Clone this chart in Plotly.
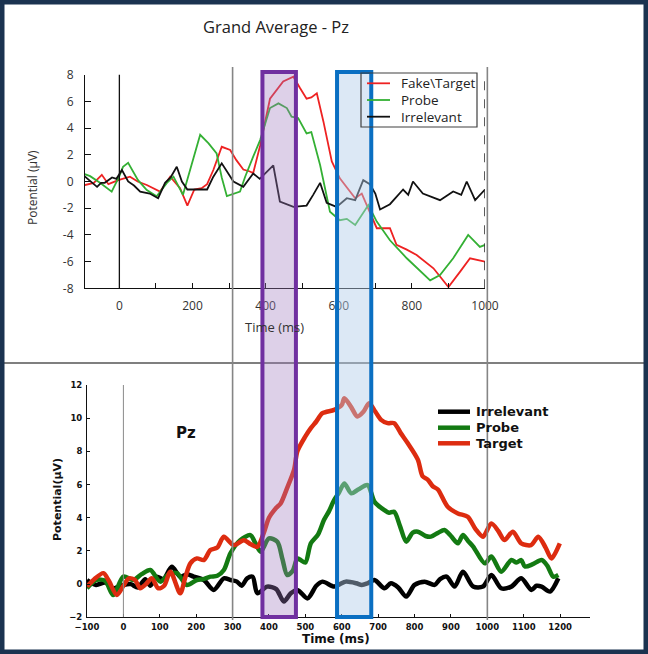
import plotly.graph_objects as go

W, H = 648, 654

# ---------------- TOP PANEL DATA (Grand Average - Pz) ----------------
top_red_t = [-100,-70,-48,-30,-3,29,50,75,111,139,
             166,186,205,225,240,257,280,303,320,339,
             357,366,385,412,448,476,494,512,525,540,
             558,581,603,625,645,663,685,704,740,758,
             786,813,859,900,932,959,1000]
top_red_v = [-0.3,-0.1,0.5,-0.2,0.1,0.36,0.0,-0.26,-0.76,0.36,
             -0.5,-1.8,-0.6,-0.5,-0.2,0.86,2.6,2.36,1.6,0.9,
             0.75,0.63,2.7,6.2,7.5,7.85,7.0,6.2,6.3,6.6,
             4.5,1.5,0.24,-0.5,-1.25,-0.9,-2.26,-3.5,-3.5,-4.75,
             -5.1,-5.5,-6.5,-7.9,-6.75,-5.75,-6.0]

top_green_t = [-100,-80,-53,-21,0,10,24,51,75,102,
               130,148,174,200,221,244,266,280,294,330,
               344,366,385,412,435,458,471,489,512,525,
               549,576,603,622,645,681,704,740,786,850,
               877,913,954,986,1000]
top_green_v = [0.6,0.4,-0.1,-0.76,0.4,1.1,1.4,0.1,-0.64,-1.1,
               -0.1,0.36,-1.0,1.4,3.5,2.86,2.1,0.3,-1.1,-0.76,
               0.36,1.86,3.1,5.5,5.85,5.5,4.85,4.75,3.6,3.7,
               1.24,-2.26,-2.9,-2.8,-3.26,-1.76,-3.0,-4.4,-5.75,-7.4,
               -7.0,-5.75,-4.0,-4.9,-4.75]

top_black_t = [-100,-80,-61,-50,-40,-20,-8,7,24,40,
               57,83,106,125,140,157,171,186,213,240,
               257,280,312,339,366,384,421,439,476,512,
               530,549,567,594,622,645,667,685,700,713,
               740,760,776,790,803,830,850,877,913,935,
               950,973,1000]
top_black_v = [0.5,0.0,-0.4,-0.1,-0.1,0.3,0.2,0.86,0.0,-0.3,
               -0.76,-0.9,-1.25,-0.1,0.3,1.1,0.0,-0.6,-0.6,-0.6,
               0.36,1.36,0.0,-0.4,0.6,0.2,1.2,-1.5,-1.9,-1.8,
               -1.0,-0.1,-1.6,-1.9,-1.25,-1.4,0.1,-0.2,-0.9,-2.1,
               -1.7,-1.1,-0.6,-1.0,0.0,-0.9,-1.1,-1.4,-0.75,-1.0,
               0.0,-1.4,-0.6]

top_series_names = ["Fake\\Target", "Probe", "Irrelevant"]
top_xticks = [0,100,200,300,400,500,600,700,800,900,1000]
top_xticklabels = ["0","","200","","400","","600","","800","","1000"]
top_yticks = [-8,-6,-4,-2,0,2,4,6,8]
top_yticklabels = ["-8","-6","-4","-2","0","2","4","6","8"]

# ---------------- BOTTOM PANEL DATA (Pz) ----------------
bot_red_t = [-100,-80,-55,-40,-18,0,15,32,46,62,
             78,96,112,129,156,170,184,202,221,239,
             258,276,303,331,350,368,386,400,420,432,
             450,469,478,500,515,530,547,579,600,607,
             625,643,660,675,692,708,726,744,762,781,
             809,822,836,850,864,891,919,946,968,988,
             1011,1030,1047,1070,1093,1120,1140,1160,1176,1199]
bot_red_v = [-0.15,0.3,0.66,0.2,-0.66,-0.1,0.35,0.25,-0.25,0.0,
             0.35,-0.25,-0.1,0.75,-0.55,0.4,1.25,1.55,1.45,2.05,
             2.2,2.85,2.35,2.65,2.4,2.25,3.1,4.0,4.6,4.86,
             5.8,6.9,8.0,8.9,9.4,9.8,10.3,10.5,10.8,11.2,
             10.7,10.1,10.4,10.9,10.4,9.9,9.7,9.7,9.1,8.5,
             7.5,6.5,6.3,5.9,5.7,4.66,4.26,4.06,3.3,2.86,
             3.66,3.2,2.66,3.16,2.46,2.35,2.86,2.2,1.55,2.46]

bot_green_t = [-100,-74,-50,-28,0,27,50,74,101,125,
               147,174,202,220,239,258,276,294,321,349,
               362,377,400,423,437,450,465,478,487,500,
               515,535,551,565,579,592,607,626,645,671,
               690,717,730,744,760,777,795,809,830,845,
               865,882,900,919,933,947,961,993,1011,1038,
               1066,1080,1093,1103,1125,1149,1165,1181,1195]
bot_green_v = [-0.25,0.25,0.2,-0.66,0.45,0.25,0.6,0.85,0.15,0.6,
               0.66,-0.05,0.25,0.3,0.45,0.5,0.85,1.85,2.65,2.95,
               2.5,1.95,2.75,2.55,1.5,0.55,0.8,1.55,1.45,1.3,
               2.46,3.0,3.86,4.4,5.07,5.5,6.07,5.47,5.7,5.97,
               4.96,4.46,4.3,4.36,3.5,2.56,3.1,3.16,2.9,2.86,
               3.1,3.26,2.9,2.46,2.96,2.6,2.26,1.25,1.66,0.75,
               1.45,1.3,1.45,1.06,1.2,1.45,1.1,0.45,0.55]

bot_black_t = [-100,-75,-50,-28,0,20,40,60,74,92,
               110,133,156,175,193,221,248,276,295,312,
               325,340,355,368,395,420,441,460,478,506,
               530,547,579,595,611,640,655,671,690,717,
               735,755,777,800,828,855,870,888,910,933,
               961,988,1011,1038,1066,1093,1121,1135,1149,1172,
               1195]
bot_black_v = [0.25,-0.05,0.1,-0.25,-0.05,0.0,-0.2,0.3,-0.1,0.45,
               0.3,1.05,0.45,0.6,0.45,0.25,-0.35,0.35,0.25,0.15,
               -0.1,0.35,0.45,-0.55,-0.15,-0.3,-1.05,-0.55,-0.35,-0.86,
               -0.1,0.15,-0.15,0.0,0.15,0.05,-0.05,0.05,0.25,-0.25,
               0.05,-0.2,-0.75,-0.05,0.15,-0.05,0.3,0.45,-0.15,0.75,
               -0.15,-0.15,0.55,-0.25,-0.15,0.35,-0.35,-0.1,-0.15,-0.45,
               0.35]

bot_series_names = ["Irrelevant", "Probe", "Target"]
bot_xticks = [-100,0,100,200,300,400,500,600,700,800,900,1000,1100,1200]
bot_xticklabels = ["\u2212100","0","100","200","300","400","500","600","700","800","900","1000","1100","1200"]
bot_yticks = [-2,0,2,4,6,8,10,12]
bot_yticklabels = ["\u22122","0","2","4","6","8","10","12"]

# windows (ms) highlighted across both panels
purple_win = [382, 474]
blue_win = [587, 681]
divider_times = [300, 1000]

# ---------------- helpers (pixel -> paper) ----------------
def px(x):
    return x / W

def py(y):
    return 1 - y / H

TOP_RED, TOP_GREEN, TOP_BLACK = "#ee2222", "#34b034", "#111111"
BOT_RED, BOT_GREEN, BOT_BLACK = "#dd2c10", "#137a12", "#000000"

fig = go.Figure()

for t, v, c in [(top_red_t, top_red_v, TOP_RED),
                (top_green_t, top_green_v, TOP_GREEN),
                (top_black_t, top_black_v, TOP_BLACK)]:
    fig.add_trace(go.Scatter(x=t, y=v, mode="lines", xaxis="x", yaxis="y",
                             line=dict(color=c, width=1.8), showlegend=False,
                             hoverinfo="skip"))

for t, v, c in [(bot_black_t, bot_black_v, BOT_BLACK),
                (bot_green_t, bot_green_v, BOT_GREEN),
                (bot_red_t, bot_red_v, BOT_RED)]:
    fig.add_trace(go.Scatter(x=t, y=v, mode="lines", xaxis="x2", yaxis="y2",
                             line=dict(color=c, width=4.5, shape="spline", smoothing=0.8),
                             showlegend=False, hoverinfo="skip"))

top_font = dict(family="Open Sans", size=12, color="#333333")
bot_font = dict(family="DejaVu Sans", size=8.5, color="#111111", weight="bold")

fig.update_layout(
    width=W, height=H,
    margin=dict(l=0, r=0, t=0, b=0),
    paper_bgcolor="white", plot_bgcolor="rgba(0,0,0,0)",
    showlegend=False,
    xaxis=dict(domain=[px(85), px(485)], range=[-94, 1000], anchor="y",
               showgrid=False, zeroline=False, showline=True, linecolor="#111", linewidth=1,
               ticks="inside", ticklen=5, tickcolor="#111",
               tickvals=top_xticks, ticktext=top_xticklabels,
               tickfont=top_font, ticklabelstandoff=6, automargin=False),
    yaxis=dict(domain=[py(288.3), py(74.7)], range=[-8, 8], anchor="x",
               showgrid=False, zeroline=False, showline=True, linecolor="#111", linewidth=1,
               ticks="inside", ticklen=6, tickcolor="#111",
               tickvals=top_yticks, ticktext=top_yticklabels,
               tickfont=top_font, ticklabelstandoff=8, automargin=False),
    xaxis2=dict(domain=[px(87), px(590)], range=[-100, 1282], anchor="y2",
                showgrid=False, zeroline=False, showline=True, linecolor="#111", linewidth=1,
                ticks="inside", ticklen=3, tickcolor="#111",
                tickvals=bot_xticks, ticktext=bot_xticklabels,
                tickfont=bot_font, ticklabelstandoff=1, automargin=False),
    yaxis2=dict(domain=[py(617.3), py(385)], range=[-2, 12], anchor="x2",
                showgrid=False, zeroline=False, showline=True, linecolor="#111", linewidth=1,
                ticks="inside", ticklen=3, tickcolor="#111",
                tickvals=bot_yticks, ticktext=bot_yticklabels,
                tickfont=bot_font, ticklabelstandoff=2, automargin=False),
)

shapes = []
shapes.append(dict(type="line", xref="paper", yref="paper", x0=0, x1=1, y0=py(363), y1=py(363),
                   line=dict(color="#7f7f7f", width=2), layer="above"))
shapes.append(dict(type="line", xref="x", yref="y", x0=0, x1=0, y0=-8, y1=8.4,
                   line=dict(color="#111", width=1.3), layer="above"))
for tt in divider_times:
    shapes.append(dict(type="line", xref="x2", yref="paper", x0=tt, x1=tt, y0=py(620), y1=py(67),
                       line=dict(color="#858585", width=1.6), layer="above"))
shapes.append(dict(type="line", xref="x", yref="y", x0=1000, x1=1000, y0=-8, y1=8.6,
                   line=dict(color="#333", width=1.6, dash="dash"), layer="above"))
shapes.append(dict(type="line", xref="x2", yref="y2", x0=0, x1=0, y0=-2, y1=12,
                   line=dict(color="#8a8a8a", width=1), layer="above"))
shapes.append(dict(type="rect", xref="x2", yref="paper", x0=purple_win[0], x1=purple_win[1],
                   y0=py(617), y1=py(72), fillcolor="rgba(158,121,189,0.35)",
                   line=dict(color="#7030a0", width=4), layer="above"))
shapes.append(dict(type="rect", xref="x2", yref="paper", x0=blue_win[0], x1=blue_win[1],
                   y0=py(617), y1=py(72), fillcolor="rgba(178,204,233,0.45)",
                   line=dict(color="#0a6fc2", width=4), layer="above"))
shapes.append(dict(type="rect", xref="paper", yref="paper", x0=px(361), x1=px(477),
                   y0=py(127), y1=py(73), line=dict(color="#404040", width=1.2), layer="above"))
top_leg_y = [83.3, 100, 116.7]
for yy, c in zip(top_leg_y, [TOP_RED, TOP_GREEN, TOP_BLACK]):
    shapes.append(dict(type="line", xref="paper", yref="paper", x0=px(367), x1=px(390),
                       y0=py(yy), y1=py(yy), line=dict(color=c, width=1.8), layer="above"))
bot_leg_y = [411.7, 427.7, 443.3]
for yy, c in zip(bot_leg_y, [BOT_BLACK, BOT_GREEN, BOT_RED]):
    shapes.append(dict(type="line", xref="paper", yref="paper", x0=px(438), x1=px(470),
                       y0=py(yy), y1=py(yy), line=dict(color=c, width=4.5), layer="above"))
shapes.append(dict(type="rect", xref="paper", yref="paper", x0=0, x1=1, y0=0, y1=1,
                   line=dict(color="#1b3350", width=9), layer="above"))
fig.update_layout(shapes=shapes)

ann = []
def A(x, y, text, font, xanchor="center", angle=0):
    ann.append(dict(x=px(x), y=py(y), xref="paper", yref="paper", text=text, showarrow=False,
                    xanchor=xanchor, yanchor="middle", font=font, textangle=angle))

A(276, 27, "Grand Average - Pz", dict(family="Open Sans", size=16.5, color="#222"))
A(274, 327, "Time (ms)", dict(family="Open Sans", size=13, color="#333"))
A(32, 188, "Potential (\u03bcV)", dict(family="Open Sans", size=12, color="#333"), angle=-90)
for yy, name in zip(top_leg_y, top_series_names):
    A(399, yy, name, dict(family="Open Sans", size=13.5, color="#222"), xanchor="left")

A(186, 433, "<b>Pz</b>", dict(family="DejaVu Sans", size=15, color="#111"))
A(336, 639, "<b>Time (ms)</b>", dict(family="DejaVu Sans", size=12, color="#111"))
A(57, 500, "<b>Potential(\u03bcV)</b>", dict(family="DejaVu Sans", size=11, color="#111"), angle=-90)
for yy, name in zip(bot_leg_y, bot_series_names):
    A(474, yy, "<b>" + name + "</b>", dict(family="DejaVu Sans", size=13, color="#111"), xanchor="left")

fig.update_layout(annotations=ann)
fig.write_html("out.html", config={"displayModeBar": False},
               post_script="document.body.style.margin='0';document.body.style.overflow='hidden';")
